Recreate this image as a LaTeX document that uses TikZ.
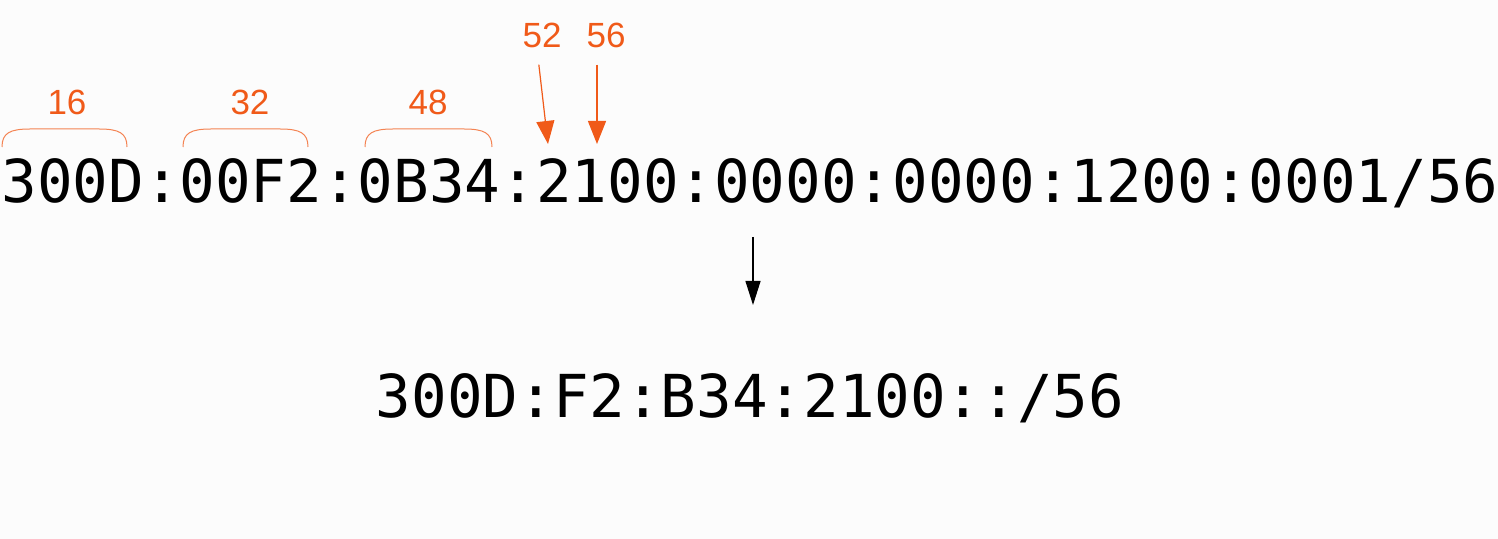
\documentclass[tikz,border=0pt]{standalone}
\usepackage{fontspec}
\usepackage{tikz}
\usetikzlibrary{arrows.meta,positioning}
\usepackage{xcolor}
\newfontfamily\addrfont{DejaVu Sans Mono}
\newfontfamily\bitfont{Liberation Sans}
\definecolor{bitorange}{RGB}{240,90,25}
\definecolor{pagebg}{RGB}{252,252,252}
\tikzstyle{addr} = [inner sep=0pt, anchor=base, font=\addrfont\fontsize{29.6}{34}\selectfont]
\tikzstyle{bitlabel} = [inner sep=0pt, anchor=base, text=bitorange, font=\bitfont\fontsize{17.5}{20}\selectfont]
\tikzstyle{bitbrace} = [line width=0.5pt, draw=bitorange!75]
\tikzstyle{bitarrow} = [line width=0.6pt, draw=bitorange, -{Triangle[length=11.5pt,width=9pt]}, shorten <=8pt]
\tikzstyle{arrow} = [line width=0.6pt, -{Triangle[length=12pt,width=7.5pt]}]

\begin{document}
\begin{tikzpicture}[x=0.5pt, y=-0.5pt]
    % Page
    \fill[pagebg] (0,0) rectangle (1498,539);
    \useasboundingbox (0,0) rectangle (1498,539);

    % Addresses
    \node[addr] (full) at (750,203) {300D:00F2:0B34:2100:0000:0000:1200:0001/56};
    \node[addr] (short) at (750,417) {300D:F2:B34:2100::/56};

    % Bit labels
    \node[bitlabel] (b16) at (67,115) {16};
    \node[bitlabel] (b32) at (250,115) {32};
    \node[bitlabel] (b48) at (428,115) {48};
    \node[bitlabel] (b52) at (542,48) {52};
    \node[bitlabel] (b56) at (606,48) {56};

    % Braces
    \draw[bitbrace] (2,147) .. controls (2,133) and (10,129) .. (30,129) -- (99,129) .. controls (119,129) and (127,133) .. (127,147);
    \draw[bitbrace] (183,147) .. controls (183,133) and (191,129) .. (211,129) -- (280,129) .. controls (300,129) and (308,133) .. (308,147);
    \draw[bitbrace] (365,147) .. controls (365,133) and (373,129) .. (393,129) -- (464,129) .. controls (484,129) and (492,133) .. (492,147);

    % Arrows
    \coordinate (t52) at (548,144);
    \coordinate (t56) at (597,144);
    \draw[bitarrow] ([xshift=-2.5pt]b52.south) -- (t52);
    \draw[bitarrow] ([xshift=-4.5pt]b56.south) -- (t56);
    \coordinate (from) at (753,237);
    \coordinate (to) at (753,305);
    \draw[arrow] (from) -- (to);
\end{tikzpicture}
\end{document}
